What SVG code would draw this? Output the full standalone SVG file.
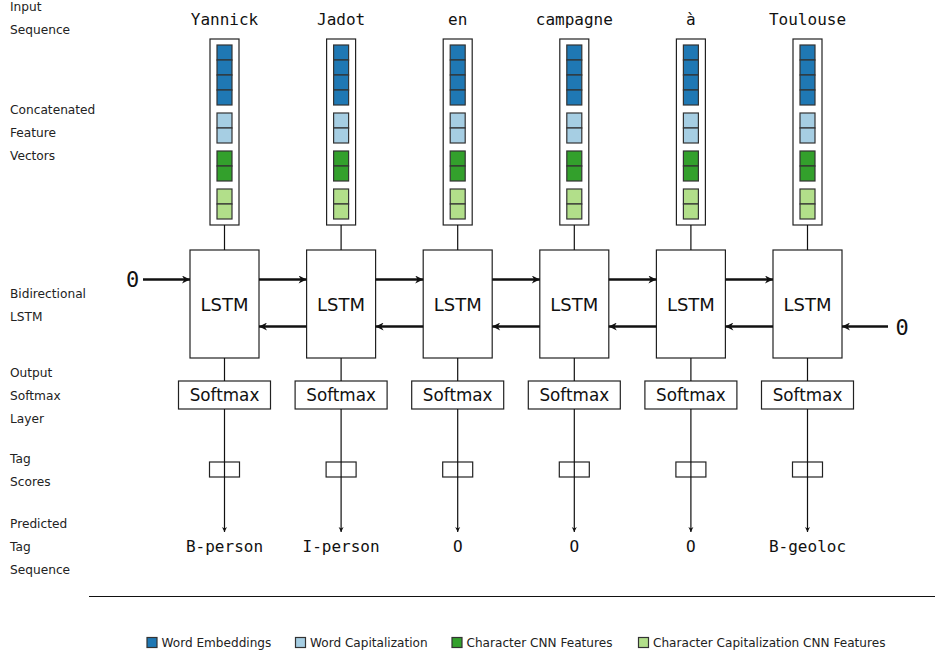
<svg xmlns="http://www.w3.org/2000/svg" xmlns:xlink="http://www.w3.org/1999/xlink" width="935" height="651" viewBox="0 0 935 651">
<style>
.lbl{font-family:"DejaVu Sans","Liberation Sans",sans-serif;font-size:12.2px;fill:#222}
.mono{font-family:"DejaVu Sans Mono","Liberation Mono",monospace;font-size:16px;fill:#111;text-anchor:middle}
.zero{font-family:"DejaVu Sans Mono","Liberation Mono",monospace;font-size:22px;fill:#111;text-anchor:middle}
.box{fill:#fff;stroke:#222;stroke-width:1.2}
.lstm{font-family:"DejaVu Sans","Liberation Sans",sans-serif;font-size:18px;fill:#111;text-anchor:middle}
.smx{font-family:"DejaVu Sans","Liberation Sans",sans-serif;font-size:16.8px;fill:#111;text-anchor:middle}
.leg{font-family:"DejaVu Sans","Liberation Sans",sans-serif;font-size:12.1px;fill:#222}
.c{stroke:#333;stroke-width:1.2}
.c1{fill:#1f78b4}.c2{fill:#a6cee3}.c3{fill:#33a02c}.c4{fill:#b2df8a}
.thin{stroke:#111;stroke-width:1.2;fill:none;marker-end:url(#a)}
.thick{stroke:#111;stroke-width:2.4;fill:none;marker-end:url(#b)}
</style>
<defs>
<marker id="a" markerUnits="userSpaceOnUse" viewBox="0 0 10 10" refX="10" refY="5" markerWidth="5" markerHeight="7" orient="auto">
<path d="M0,0 L10,5 L0,10 L3,5 z" fill="#111"/>
</marker>
<marker id="b" markerUnits="userSpaceOnUse" viewBox="0 0 10 10" refX="10" refY="5" markerWidth="11" markerHeight="8" orient="auto">
<path d="M0,0 L10,5 L0,10 L3,5 z" fill="#111"/>
</marker>
<g id="vec">
<rect x="-14.5" y="39" width="29" height="186" class="box"/>
<rect x="-7.5" y="45" width="15" height="15" class="c c1"/>
<rect x="-7.5" y="60" width="15" height="15" class="c c1"/>
<rect x="-7.5" y="75" width="15" height="15" class="c c1"/>
<rect x="-7.5" y="90" width="15" height="15" class="c c1"/>
<rect x="-7.5" y="113" width="15" height="15" class="c c2"/>
<rect x="-7.5" y="128" width="15" height="15" class="c c2"/>
<rect x="-7.5" y="151" width="15" height="15" class="c c3"/>
<rect x="-7.5" y="166" width="15" height="15" class="c c3"/>
<rect x="-7.5" y="189" width="15" height="15" class="c c4"/>
<rect x="-7.5" y="204" width="15" height="15" class="c c4"/>
</g>
</defs>
<rect width="935" height="651" fill="#fff"/>
<g id="row-labels">
<text class="lbl" x="10" y="11">Input</text>
<text class="lbl" x="10" y="34">Sequence</text>
<text class="lbl" x="10" y="114">Concatenated</text>
<text class="lbl" x="10" y="137">Feature</text>
<text class="lbl" x="10" y="160">Vectors</text>
<text class="lbl" x="10" y="298">Bidirectional</text>
<text class="lbl" x="10" y="321">LSTM</text>
<text class="lbl" x="10" y="377">Output</text>
<text class="lbl" x="10" y="400">Softmax</text>
<text class="lbl" x="10" y="423">Layer</text>
<text class="lbl" x="10" y="463">Tag</text>
<text class="lbl" x="10" y="486">Scores</text>
<text class="lbl" x="10" y="528">Predicted</text>
<text class="lbl" x="10" y="551">Tag</text>
<text class="lbl" x="10" y="574">Sequence</text>
</g>
<g id="words">
<text class="mono" x="224.5" y="25">Yannick</text>
<text class="mono" x="341.1" y="25">Jadot</text>
<text class="mono" x="457.7" y="25">en</text>
<text class="mono" x="574.3" y="25">campagne</text>
<text class="mono" x="690.9" y="25">à</text>
<text class="mono" x="807.5" y="25">Toulouse</text>
</g>
<g id="vectors">
<use xlink:href="#vec" href="#vec" x="224.5" y="0"/>
<use xlink:href="#vec" href="#vec" x="341.1" y="0"/>
<use xlink:href="#vec" href="#vec" x="457.7" y="0"/>
<use xlink:href="#vec" href="#vec" x="574.3" y="0"/>
<use xlink:href="#vec" href="#vec" x="690.9" y="0"/>
<use xlink:href="#vec" href="#vec" x="807.5" y="0"/>
</g>
<g id="lstm-1"><rect class="box" x="190" y="250" width="69" height="108"/><text class="lstm" x="224.5" y="311">LSTM</text></g>
<g id="lstm-2"><rect class="box" x="306.6" y="250" width="69" height="108"/><text class="lstm" x="341.1" y="311">LSTM</text></g>
<g id="lstm-3"><rect class="box" x="423.2" y="250" width="69" height="108"/><text class="lstm" x="457.7" y="311">LSTM</text></g>
<g id="lstm-4"><rect class="box" x="539.8" y="250" width="69" height="108"/><text class="lstm" x="574.3" y="311">LSTM</text></g>
<g id="lstm-5"><rect class="box" x="656.4" y="250" width="69" height="108"/><text class="lstm" x="690.9" y="311">LSTM</text></g>
<g id="lstm-6"><rect class="box" x="773" y="250" width="69" height="108"/><text class="lstm" x="807.5" y="311">LSTM</text></g>
<g id="init-states">
<text class="zero" x="132.5" y="287">0</text>
<text class="zero" x="902" y="335">0</text>
</g>
<g id="softmax-1"><rect class="box" x="178.5" y="381" width="92" height="28"/><text class="smx" x="224.5" y="401">Softmax</text></g>
<g id="softmax-2"><rect class="box" x="295.1" y="381" width="92" height="28"/><text class="smx" x="341.1" y="401">Softmax</text></g>
<g id="softmax-3"><rect class="box" x="411.7" y="381" width="92" height="28"/><text class="smx" x="457.7" y="401">Softmax</text></g>
<g id="softmax-4"><rect class="box" x="528.3" y="381" width="92" height="28"/><text class="smx" x="574.3" y="401">Softmax</text></g>
<g id="softmax-5"><rect class="box" x="644.9" y="381" width="92" height="28"/><text class="smx" x="690.9" y="401">Softmax</text></g>
<g id="softmax-6"><rect class="box" x="761.5" y="381" width="92" height="28"/><text class="smx" x="807.5" y="401">Softmax</text></g>
<g id="score-1"><rect class="box" x="209.5" y="462" width="30" height="15"/></g>
<g id="score-2"><rect class="box" x="326.1" y="462" width="30" height="15"/></g>
<g id="score-3"><rect class="box" x="442.7" y="462" width="30" height="15"/></g>
<g id="score-4"><rect class="box" x="559.3" y="462" width="30" height="15"/></g>
<g id="score-5"><rect class="box" x="675.9" y="462" width="30" height="15"/></g>
<g id="score-6"><rect class="box" x="792.5" y="462" width="30" height="15"/></g>
<g id="tags">
<text class="mono" x="224.5" y="552">B-person</text>
<text class="mono" x="341.1" y="552">I-person</text>
<text class="mono" x="457.7" y="552">O</text>
<text class="mono" x="574.3" y="552">O</text>
<text class="mono" x="690.9" y="552">O</text>
<text class="mono" x="807.5" y="552">B-geoloc</text>
</g>
<g id="connectors">
<path class="thin" d="M224.5,225 V250 M224.5,358 V381 M224.5,409 V462 M224.5,462 V532"/>
<path class="thin" d="M341.1,225 V250 M341.1,358 V381 M341.1,409 V462 M341.1,462 V532"/>
<path class="thin" d="M457.7,225 V250 M457.7,358 V381 M457.7,409 V462 M457.7,462 V532"/>
<path class="thin" d="M574.3,225 V250 M574.3,358 V381 M574.3,409 V462 M574.3,462 V532"/>
<path class="thin" d="M690.9,225 V250 M690.9,358 V381 M690.9,409 V462 M690.9,462 V532"/>
<path class="thin" d="M807.5,225 V250 M807.5,358 V381 M807.5,409 V462 M807.5,462 V532"/>
<line class="thick" x1="143" y1="279.5" x2="190" y2="279.5"/>
<line class="thick" x1="259" y1="279.5" x2="306.6" y2="279.5"/>
<line class="thick" x1="375.6" y1="279.5" x2="423.2" y2="279.5"/>
<line class="thick" x1="492.2" y1="279.5" x2="539.8" y2="279.5"/>
<line class="thick" x1="608.8" y1="279.5" x2="656.4" y2="279.5"/>
<line class="thick" x1="725.4" y1="279.5" x2="773" y2="279.5"/>
<line class="thick" x1="306.6" y1="326.5" x2="259" y2="326.5"/>
<line class="thick" x1="423.2" y1="326.5" x2="375.6" y2="326.5"/>
<line class="thick" x1="539.8" y1="326.5" x2="492.2" y2="326.5"/>
<line class="thick" x1="656.4" y1="326.5" x2="608.8" y2="326.5"/>
<line class="thick" x1="773" y1="326.5" x2="725.4" y2="326.5"/>
<line class="thick" x1="888" y1="326.5" x2="842" y2="326.5"/>
</g>
<line x1="89" y1="596.5" x2="935" y2="596.5" stroke="#111" stroke-width="1.2"/>
<g id="legend">
<rect class="c c1" x="147" y="637.5" width="10" height="10"/>
<text class="leg" x="161.5" y="647">Word Embeddings</text>
<rect class="c c2" x="295.5" y="637.5" width="10" height="10"/>
<text class="leg" x="310" y="647">Word Capitalization</text>
<rect class="c c3" x="452" y="637.5" width="10" height="10"/>
<text class="leg" x="466.5" y="647">Character CNN Features</text>
<rect class="c c4" x="638.5" y="637.5" width="10" height="10"/>
<text class="leg" x="653" y="647">Character Capitalization CNN Features</text>
</g>
</svg>
